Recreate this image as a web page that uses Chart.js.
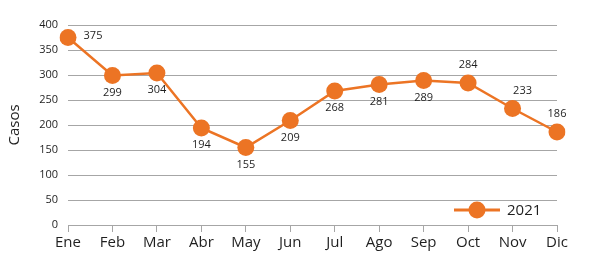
<!DOCTYPE html>
<html>
<head>
<meta charset="utf-8">
<script src="https://cdn.jsdelivr.net/npm/chart.js@4.4.1/dist/chart.umd.min.js"></script>
<style>
  html, body { margin: 0; padding: 0; background: #fff; }
  #wrap { width: 589px; height: 278px; }
</style>
</head>
<body>
<div id="wrap"><canvas id="chart" width="589" height="278"></canvas></div>
<script>
const months = ['Ene', 'Feb', 'Mar', 'Abr', 'May', 'Jun', 'Jul', 'Ago', 'Sep', 'Oct', 'Nov', 'Dic'];
const casos2021 = [375, 299, 304, 194, 155, 209, 268, 281, 289, 284, 233, 186];
const seriesName = '2021';
const yTicks = [0, 50, 100, 150, 200, 250, 300, 350, 400];
// where each value label sits relative to its point
const labelSide = ['right', 'below', 'below', 'below', 'below', 'below', 'below', 'below', 'below', 'above', 'aboveright', 'above'];

const orange = '#ec7424';
const gridGray = '#a6a6a6';
const textCol = '#1f1f1f';

const valueLabels = {
  id: 'valueLabels',
  afterDatasetsDraw(chart) {
    const ctx = chart.ctx;
    const meta = chart.getDatasetMeta(0);
    ctx.save();
    ctx.font = '11px "Open Sans", sans-serif';
    ctx.fillStyle = textCol;
    ctx.textAlign = 'center';
    ctx.textBaseline = 'middle';
    meta.data.forEach((pt, i) => {
      let dx = 0, dy = 17;
      if (labelSide[i] == 'right') { dx = 25; dy = -2; }
      if (labelSide[i] == 'above') { dx = 0; dy = -18; }
      if (labelSide[i] == 'aboveright') { dx = 10; dy = -18; }
      ctx.fillText(String(casos2021[i]), pt.x + dx, pt.y + dy);
    });
    ctx.restore();
  }
};

// legend drawn inside the plot, bottom right
const innerLegend = {
  id: 'innerLegend',
  afterDraw(chart) {
    const ctx = chart.ctx;
    const y = chart.scales.y.getPixelForValue(30);
    const x0 = 454, x1 = 500;
    ctx.save();
    ctx.strokeStyle = orange;
    ctx.lineWidth = 3;
    ctx.beginPath();
    ctx.moveTo(x0, y);
    ctx.lineTo(x1, y);
    ctx.stroke();
    ctx.fillStyle = orange;
    ctx.beginPath();
    ctx.arc((x0 + x1) / 2, y, 8.5, 0, Math.PI * 2);
    ctx.fill();
    ctx.fillStyle = textCol;
    ctx.font = '15px "Open Sans", sans-serif';
    ctx.textBaseline = 'middle';
    ctx.fillText(seriesName, 507, y + 1);
    ctx.restore();
  }
};

new Chart(document.getElementById('chart'), {
  type: 'line',
  data: {
    labels: months,
    datasets: [{
      label: seriesName,
      data: casos2021,
      borderColor: orange,
      backgroundColor: orange,
      borderWidth: 2.5,
      pointRadius: 8.5,
      pointHoverRadius: 8.5,
      pointBackgroundColor: orange,
      pointBorderWidth: 0,
      tension: 0
    }]
  },
  options: {
    responsive: false,
    animation: false,
    layout: { padding: { top: 25, right: 32, bottom: 0, left: 0 } },
    plugins: {
      legend: { display: false },
      tooltip: { enabled: false }
    },
    scales: {
      x: {
        offset: false,
        grid: { display: true, drawOnChartArea: false, color: gridGray, tickLength: 7 },
        border: { display: true, color: gridGray },
        ticks: { color: textCol, font: { size: 15, family: '"Open Sans", sans-serif' }, padding: 2, maxRotation: 0, autoSkip: false },
        afterFit(s) { s.height = 53; }
      },
      y: {
        min: 0,
        max: 400,
        afterBuildTicks(s) { s.ticks = yTicks.map(v => ({ value: v })); },
        grid: { color: gridGray, lineWidth: 1, drawTicks: false },
        border: { display: false },
        ticks: { color: textCol, font: { size: 11, family: '"Open Sans", sans-serif' }, padding: 10 },
        title: { display: true, text: 'Casos', color: textCol, font: { size: 15, family: '"Open Sans", sans-serif' }, padding: { top: 6, bottom: 6 } },
        afterFit(s) { s.width = 68; }
      }
    }
  },
  plugins: [valueLabels, innerLegend]
});
</script>
</body>
</html>
